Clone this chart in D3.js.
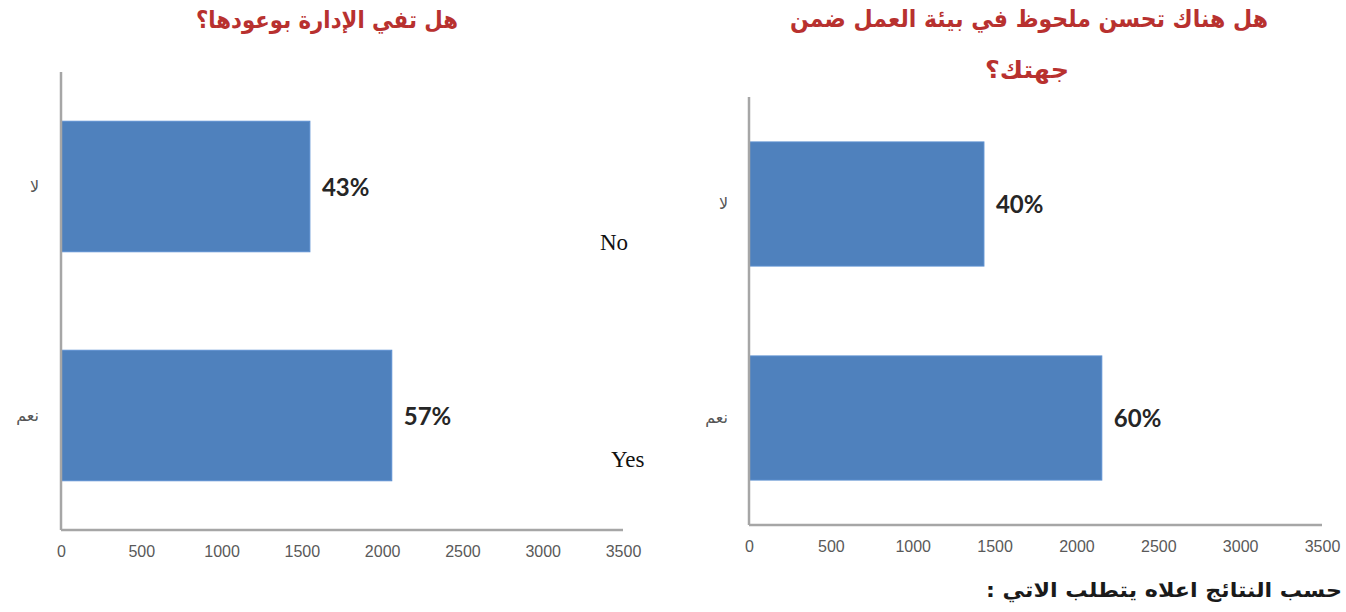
<!DOCTYPE html>
<html lang="ar">
<head>
<meta charset="utf-8">
<script src="https://cdn.jsdelivr.net/npm/d3@7/dist/d3.min.js"></script>
<style>
  html, body { margin: 0; padding: 0; background: #ffffff; }
  svg { display: block; }
</style>
</head>
<body>
<svg id="chart" width="1346" height="612"></svg>
<script>
// Survey answers (bottom-to-top order, as in a spreadsheet bar chart)
const categories = ["نعم", "لا"];
const promisesCounts = [2060, 1550];     // هل تفي الإدارة بوعودها؟
const improvementCounts = [2155, 1435];  // هل هناك تحسن ملحوظ في بيئة العمل ضمن جهتك؟
const xTicks = [0, 500, 1000, 1500, 2000, 2500, 3000, 3500];
const xMax = 3500;

const leftTitle = ["هل تفي الإدارة بوعودها؟"];
const rightTitle = ["هل هناك تحسن ملحوظ في بيئة العمل ضمن", "جهتك؟"];
const sideNotes = ["No", "Yes"];
const footerText = "حسب النتائج اعلاه يتطلب الاتي :";

const svg = d3.select("#chart");
const arabicFont = "'DejaVu Sans', sans-serif";
const tickFont = "'Liberation Sans', Arial, sans-serif";
const barColor = "#4f81bd";
const axisColor = "#a6a6a6";
const titleColor = "#b8312f";

function drawPanel(cfg) {
  const g = svg.append("g");

  const x = d3.scaleLinear().domain([0, xMax]).range([cfg.left, cfg.right]);
  const y = d3.scaleBand()
    .domain(categories.slice().reverse())
    .range([cfg.top, cfg.bottom])
    .paddingInner(cfg.pad)
    .paddingOuter(cfg.pad / 2);

  const total = d3.sum(cfg.values);
  const rows = categories.map((c, i) => ({ cat: c, value: cfg.values[i] }));

  // title lines
  cfg.title.forEach((line, i) => {
    g.append("text")
      .attr("x", cfg.titleX[i])
      .attr("y", cfg.titleY[i])
      .attr("text-anchor", "middle")
      .attr("dominant-baseline", "middle")
      .attr("direction", "rtl")
      .attr("font-family", arabicFont)
      .attr("font-weight", "bold")
      .attr("font-size", 24)
      .attr("fill", titleColor)
      .attr("textLength", cfg.titleW[i])
      .attr("lengthAdjust", "spacingAndGlyphs")
      .text(line);
  });

  // bars
  g.selectAll("rect.bar")
    .data(rows)
    .join("rect")
    .attr("class", "bar")
    .attr("x", x(0))
    .attr("y", d => y(d.cat))
    .attr("width", d => x(d.value) - x(0))
    .attr("height", y.bandwidth())
    .attr("fill", barColor)
    .attr("stroke", "#5b8fd0")
    .attr("stroke-width", 1);

  // percentage labels
  g.selectAll("text.pct")
    .data(rows)
    .join("text")
    .attr("class", "pct")
    .attr("x", d => x(d.value) + 12)
    .attr("y", d => y(d.cat) + y.bandwidth() / 2 + 3)
    .attr("dominant-baseline", "middle")
    .attr("font-family", "Lato, 'Open Sans', sans-serif")
    .attr("font-weight", "bold")
    .attr("font-size", 24)
    .attr("fill", "#262626")
    .text(d => Math.round(d.value / total * 100) + "%");

  // category axis (left)
  const yAxis = g.append("g")
    .attr("transform", `translate(${x(0)},0)`)
    .call(d3.axisLeft(y).tickSize(0).tickPadding(cfg.catPad));
  yAxis.select(".domain").remove();
  yAxis.selectAll("text")
    .attr("font-family", arabicFont)
    .attr("font-size", 16)
    .attr("fill", "#555");

  // value axis (bottom)
  const xAxis = g.append("g")
    .attr("transform", `translate(0,${cfg.bottom})`)
    .call(d3.axisBottom(x).tickValues(xTicks).tickFormat(d3.format("d")).tickSize(0).tickPadding(16));
  xAxis.select(".domain").remove();
  xAxis.selectAll("text")
    .attr("font-family", tickFont)
    .attr("font-size", 16)
    .attr("fill", "#595959");

  // axis lines
  g.append("line")
    .attr("x1", x(0)).attr("x2", x(0))
    .attr("y1", cfg.top).attr("y2", cfg.bottom)
    .attr("stroke", axisColor).attr("stroke-width", 2.5);
  g.append("line")
    .attr("x1", x(0)).attr("x2", x(xMax))
    .attr("y1", cfg.bottom).attr("y2", cfg.bottom)
    .attr("stroke", axisColor).attr("stroke-width", 2.5);
}

drawPanel({
  values: promisesCounts,
  title: leftTitle,
  titleX: [327], titleY: [21], titleW: [262],
  left: 61, right: 623, top: 72, bottom: 530, pad: 0.43, catPad: 22
});

drawPanel({
  values: improvementCounts,
  title: rightTitle,
  titleX: [1029, 1027], titleY: [20, 71], titleW: [478, 84],
  left: 749, right: 1322, top: 97, bottom: 525, pad: 0.42, catPad: 21
});

// side notes between the panels
svg.selectAll("text.note")
  .data(sideNotes)
  .join("text")
  .attr("class", "note")
  .attr("x", (d, i) => [600, 611][i])
  .attr("y", (d, i) => [250, 467][i])
  .attr("font-family", "'Liberation Serif', 'Times New Roman', serif")
  .attr("font-size", 23)
  .attr("fill", "#111")
  .text(d => d);

// footer line
svg.append("text")
  .attr("x", 1164)
  .attr("y", 591)
  .attr("text-anchor", "middle")
  .attr("dominant-baseline", "middle")
  .attr("direction", "rtl")
  .attr("font-family", arabicFont)
  .attr("font-weight", "bold")
  .attr("font-size", 20)
  .attr("fill", "#1a1a1a")
  .attr("textLength", 356)
  .attr("lengthAdjust", "spacingAndGlyphs")
  .text(footerText);
</script>
</body>
</html>
